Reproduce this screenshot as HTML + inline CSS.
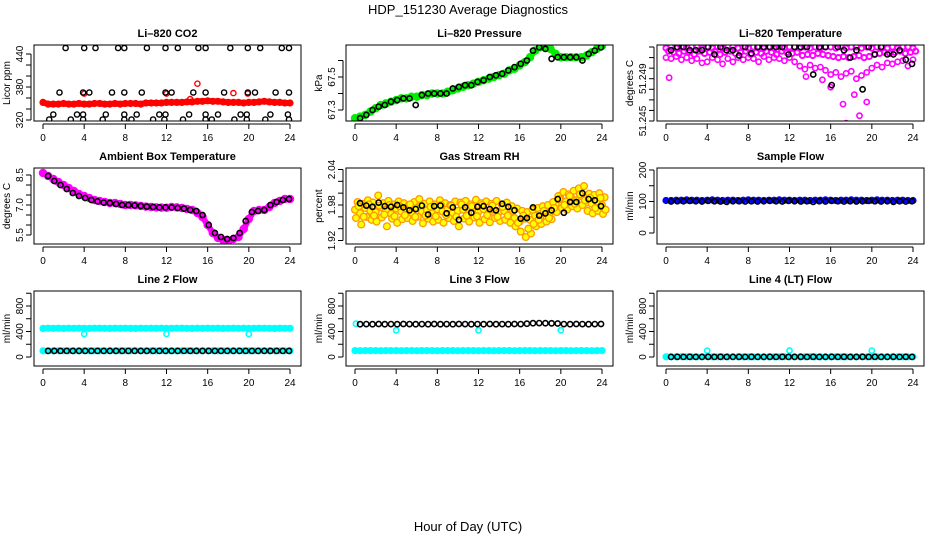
<!DOCTYPE html>
<html><head><meta charset="utf-8"><style>
html,body{margin:0;padding:0;background:#fff;}
svg{display:block;font-family:"Liberation Sans",sans-serif;}
</style></head><body>
<svg id="chart" width="936" height="540" viewBox="0 0 936 540" xmlns="http://www.w3.org/2000/svg">
<rect width="936" height="540" fill="#fff"/>
<text x="468" y="14" text-anchor="middle" font-size="13">HDP_151230  Average Diagnostics</text>
<text x="468" y="531" text-anchor="middle" font-size="13">Hour of Day (UTC)</text>
</svg>
<script>
// ---------- data ----------
const xTicks=[0,4,8,12,16,20,24];
// CO2
const co2Red=[352,349,349,349,350,349,349,350,349,349,350,350,349,349,350,349,350,350,350,349,351,351,351,351,352,352,352,352,353,353,354,354,355,354,354,353,352,352,352,351,352,352,353,354,353,352,352,351,351];
const co2RedOutT=[4,12,14.3,15,18.5,19.9];
const co2RedOutV=[368,368,358,386,369,368];
const co2BlackT=[2.2,4,5.1,7.3,7.9,10.1,11.9,13.1,15.1,15.8,18.2,19.9,21.1,23.2,23.9,1.6,3.9,4.5,6.7,7.9,9.6,11.9,12.5,14.6,15.8,17.6,19.9,20.6,22.6,23.9,1,3.3,3.9,6.1,7.9,9.1,11.3,11.9,14.2,15.8,17,19.2,19.8,22.1,23.8,0.6,2.7,3.9,5.8,7.9,8.6,10.7,11.8,13.6,15.8,16.4,18.6,19.8,21.6,23.9];
const co2BlackV=[451,451,451,451,451,451,451,451,451,451,451,451,451,451,451,370,370,370,370,370,370,370,370,370,370,370,370,370,370,370,330,330,330,330,330,330,330,330,330,330,330,330,330,330,330,321,321,321,321,321,321,321,321,321,321,321,321,321,321,321];
// Pressure
const pressGreen=[67.25,67.26,67.27,67.29,67.31,67.33,67.34,67.35,67.36,67.37,67.37,67.38,67.38,67.39,67.39,67.40,67.40,67.40,67.41,67.42,67.43,67.44,67.45,67.46,67.47,67.48,67.49,67.50,67.51,67.52,67.54,67.55,67.57,67.59,67.62,67.66,67.68,67.68,67.67,67.64,67.62,67.62,67.62,67.62,67.62,67.63,67.65,67.67,67.69];
const pressBlack=[67.25,67.27,67.30,67.32,67.33,67.35,67.36,67.37,67.37,67.33,67.39,67.40,67.40,67.40,67.40,67.43,67.44,67.45,67.45,67.47,67.48,67.50,67.51,67.52,67.54,67.56,67.58,67.60,67.66,67.68,67.67,67.61,67.62,67.62,67.62,67.62,67.60,67.64,67.66,67.68];
// Li-820 temperature
const tMag1=[51.2519,51.2520,51.2519,51.2520,51.2519,51.2520,51.2520,51.2519,51.2520,51.2519,51.2520,51.2519,51.2520,51.2520,51.2519,51.2520,51.2519,51.2520,51.2520,51.2519,51.2520,51.2519,51.2520,51.2519,51.2520,51.2520,51.2519,51.2520,51.2519,51.2520,51.2519,51.2520,51.2520,51.2519,51.2520,51.2519,51.2520,51.2520,51.2519,51.2520,51.2519,51.2520,51.2520,51.2519,51.2520,51.2519,51.2520,51.2520,51.2519];
const tMag2=[51.2516,51.2515,51.2514,51.2516,51.2515,51.2513,51.2516,51.2514,51.2515,51.2516,51.2513,51.2515,51.2516,51.2514,51.2515,51.2516,51.2513,51.2515,51.2514,51.2516,51.2515,51.2513,51.2516,51.2515,51.2514,51.2515,51.2512,51.2513,51.2512,51.2514,51.2513,51.2512,51.2511,51.2510,51.2511,51.2510,51.2511,51.2512,51.2510,51.2511,51.2513,51.2514,51.2515,51.2514,51.2515,51.2516,51.2514,51.2515,51.2516];
const tMag3=[51.2510,51.2509,51.2511,51.2508,51.2510,51.2507,51.2509,51.2505,51.2506,51.2510,51.2508,51.2504,51.2509,51.2506,51.2510,51.2508,51.2510,51.2509,51.2506,51.2511,51.2508,51.2510,51.2509,51.2507,51.2510,51.2506,51.2502,51.2499,51.2503,51.2500,51.2501,51.2498,51.2494,51.2496,51.2492,51.2495,51.2497,51.2490,51.2493,51.2496,51.2500,51.2503,51.2501,51.2505,51.2504,51.2506,51.2507,51.2502,51.2508];
const tOutT=[0.3,17.2,17.5,18.3,18.8,19.5,16.0,15.2,13.6];
const tOutV=[51.2491,51.2466,51.2448,51.2475,51.2455,51.2468,51.2482,51.2489,51.2492];
const tBlack=[51.2517,51.2520,51.2520,51.2517,51.2517,51.2517,51.2520,51.2513,51.2520,51.2517,51.2517,51.2512,51.2520,51.2514,51.2520,51.2520,51.2520,51.2520,51.2520,51.2513,51.2520,51.2520,51.2520,51.2494,51.2520,51.2520,51.2484,51.2520,51.2517,51.2510,51.2517,51.2480,51.2520,51.2513,51.2520,51.2513,51.2513,51.2517,51.2508,51.2504];
// Ambient box temperature
const ambMag=[8.6,8.45,8.3,8.15,8.0,7.85,7.7,7.55,7.45,7.35,7.25,7.2,7.15,7.1,7.1,7.05,7.0,7.0,6.98,6.95,6.92,6.9,6.88,6.87,6.86,6.9,6.88,6.85,6.8,6.75,6.6,6.4,6.0,5.6,5.35,5.25,5.2,5.3,5.4,5.8,6.3,6.7,6.75,6.75,6.9,7.1,7.2,7.3,7.3];
const ambBlack=[8.45,8.2,8.0,7.8,7.6,7.45,7.35,7.25,7.18,7.12,7.1,7.05,7.0,7.0,6.98,6.95,6.92,6.9,6.88,6.88,6.88,6.85,6.82,6.75,6.7,6.5,6.0,5.6,5.4,5.3,5.35,5.6,6.2,6.65,6.7,6.75,7.0,7.15,7.25,7.3];
// Gas stream RH
const rh1=[1.972,1.966,1.975,1.970,1.968,1.976,1.971,1.965,1.974,1.969,1.972,1.967,1.975,1.968,1.971,1.966,1.973,1.969,1.974,1.967,1.970,1.972,1.966,1.975,1.969,1.973,1.967,1.972,1.968,1.970,1.964,1.958,1.952,1.957,1.955,1.962,1.960,1.966,1.968,1.982,1.990,1.986,1.993,1.988,1.995,1.984,1.982,1.986,1.980];
const rh2=[1.985,1.982,1.988,1.984,1.996,1.983,1.987,1.981,1.986,1.983,1.980,1.985,1.990,1.982,1.986,1.981,1.988,1.983,1.980,1.986,1.984,1.987,1.981,1.989,1.983,1.986,1.982,1.987,1.981,1.984,1.978,1.974,1.970,1.968,1.972,1.975,1.978,1.980,1.985,1.995,2.002,1.998,2.004,2.008,2.012,1.999,1.997,2.000,1.993];
const rh3=[1.958,1.947,1.960,1.955,1.952,1.959,1.944,1.957,1.950,1.956,1.958,1.953,1.960,1.949,1.957,1.952,1.955,1.950,1.958,1.953,1.944,1.957,1.952,1.959,1.950,1.956,1.951,1.958,1.953,1.955,1.950,1.944,1.935,1.926,1.932,1.944,1.948,1.952,1.956,1.968,1.975,1.972,1.978,1.974,1.980,1.970,1.966,1.970,1.965];
const rh4=[1.978,1.960,1.981,1.962,1.979,1.964,1.980,1.961,1.978,1.963,1.981,1.960,1.979,1.962,1.977,1.961,1.980,1.963,1.979,1.960,1.981,1.962,1.978,1.961,1.980,1.963,1.979,1.960,1.977,1.962,1.970,1.950,1.962,1.940,1.948,1.955,1.970,1.958,1.975,1.990,1.980,1.995,1.982,1.998,1.988,1.992,1.975,1.992,1.972];
const rhBlack=[1.983,1.979,1.977,1.984,1.978,1.977,1.980,1.976,1.971,1.973,1.979,1.964,1.978,1.979,1.966,1.976,1.955,1.976,1.967,1.977,1.978,1.973,1.971,1.982,1.977,1.971,1.957,1.958,1.976,1.962,1.966,1.971,1.990,1.967,1.985,1.985,2.000,1.990,1.988,1.978];
// Sample flow
const sampBlue=[103,103,104,104,105,104,104,103,104,105,104,103,104,104,103,104,105,104,104,103,104,104,105,104,104,103,104,104,103,104,104,105,104,103,104,104,105,104,104,103,104,105,104,104,103,104,104,103,103];
const sampBlack=[100,101,101,102,101,100,102,101,100,99,101,101,100,101,100,101,102,101,100,102,101,100,101,99,101,100,102,101,100,101,100,101,102,101,100,101,99,101,100,101];
// Line 2 flow
const l2CyanHi=[448,452,450,451,449,452,450,451,450,449,451,452,450,449,451,450,452,450,449,451,450,452,450,451,449,450,451,452,450,449,451,450,452,450,451,449,450,452,450,451,449,450,451,452,450,449,451,450,450];
const l2CyanLo=[98,97,98,99,98,97,98,98,99,97,98,98,97,99,98,98,97,98,99,98,97,98,98,99,97,98,98,97,99,98,98,97,98,99,98,97,98,98,99,97,98,98,97,99,98,98,97,98,98];
const l2Black=[95,96,95,96,95,95,96,95,96,95,95,96,95,96,95,95,96,95,96,95,95,96,95,96,95,95,96,95,96,95,95,96,95,96,95,95,96,95,96,95];
const l2OutT=[4,12,20];
const l2OutV=[360,362,360];
// Line 3 flow
const l3Black=[515,516,515,517,515,516,515,517,516,515,516,515,517,515,516,515,517,516,515,516,515,517,515,516,515,517,516,522,530,531,530,528,525,516,515,517,516,515,516,517];
const l3CyanLo=[100,99,100,101,100,99,100,100,101,99,100,100,99,101,100,100,99,100,101,100,99,100,100,101,99,100,100,99,101,100,100,99,100,101,100,99,100,100,101,99,100,100,99,101,100,100,99,100,100];
const l3OutT=[0.1,4,12,20];
const l3OutV=[522,418,418,418];
// Line 4 flow
const l4Black=[2,3,2,3,2,2,3,2,3,2,2,3,2,3,2,2,3,2,3,2,2,3,2,3,2,2,3,2,3,2,2,3,2,3,2,2,3,2,3,2];
const l4Cyan=[4,3,4,5,4,3,4,4,5,3,4,4,3,5,4,4,3,4,5,4,3,4,4,5,3,4,4,3,5,4,4,3,4,5,4,3,4,4,5,3,4,4,3,5,4,4,3,4,4];
const l4OutT=[0.1,4,12,20];
const l4OutV=[5,100,102,100];

// ---------- drawing ----------
const NS="http://www.w3.org/2000/svg";
const svg=document.getElementById('chart');
function mk(tag,attrs,parent){const e=document.createElementNS(NS,tag);for(const k in attrs)e.setAttribute(k,attrs[k]);(parent||svg).appendChild(e);return e;}
const colL=[34,346,657], rowT=[45,168,291], rowB=[121,244,366], boxW=267;
const halfT=i=>i*0.5;
const blackT=i=>0.5+0.6*i;

function panel(cfg){
  const L=colL[cfg.col], T=rowT[cfg.row], B=rowB[cfg.row], R=L+boxW;
  const g=mk('g',{});
  
  
  const xs=t=>L+9+t*(247/24);
  const ys=v=>B-(v-cfg.ymin)/(cfg.ymax-cfg.ymin)*(B-T);
  const clipId='clip'+cfg.col+cfg.row;
  const cp=mk('clipPath',{id:clipId},g); mk('rect',{x:L,y:T,width:boxW,height:B-T},cp);
  const plot=mk('g',{'clip-path':'url(#'+clipId+')'},g);
  
  
  cfg.series.forEach(s=>{
    const sg=mk('g',{},plot);
    
    
    const n=s.v.length;
    const tt=i=>s.t?(Array.isArray(s.t)?s.t[i]:s.t(i)):i*24/(n-1);
    if(s.band){
      let d='';for(let i=0;i<n;i++)d+=(i?'L':'M')+xs(tt(i)).toFixed(1)+','+ys(s.v[i]).toFixed(1);
      const p=mk('path',{d:d,fill:'none',stroke:s.color,'stroke-width':s.band,'stroke-linejoin':'round','stroke-linecap':'round'},sg);
      
      
    }
    for(let i=0;i<n;i++){
      const c=mk('circle',{cx:xs(tt(i)).toFixed(1),cy:ys(s.v[i]).toFixed(1),r:s.r||2.6,fill:s.fill||'none',stroke:s.color,'stroke-width':s.sw||1.4},sg);
      
      
    }
  });
  const box=mk('rect',{x:L,y:T,width:boxW,height:B-T,fill:'none',stroke:'#000','stroke-width':1},g);
  
  
  const tl=mk('text',{x:(L+R)/2,y:T-8,'text-anchor':'middle','font-size':11,'font-weight':'bold'},g);
  tl.textContent=cfg.title;
  
  
  const xa=mk('g',{},g);
  
  
  mk('line',{x1:xs(0),x2:xs(24),y1:B+3,y2:B+3,stroke:'#000'},xa);
  xTicks.forEach(t=>{
    mk('line',{x1:xs(t),x2:xs(t),y1:B+3,y2:B+8,stroke:'#000'},xa);
    const tx=mk('text',{x:xs(t),y:B+20,'text-anchor':'middle','font-size':10},xa);
    tx.textContent=t;
    
    
  });
  const ya=mk('g',{},g);
  
  
  const yt=cfg.yticks;
  mk('line',{x1:L-3,x2:L-3,y1:ys(yt[0]),y2:ys(yt[yt.length-1]),stroke:'#000'},ya);
  yt.forEach(v=>{mk('line',{x1:L-8,x2:L-3,y1:ys(v),y2:ys(v),stroke:'#000'},ya);});
  cfg.ylabels.forEach(v=>{
    const y=ys(v);
    const tx=mk('text',{x:L-11,y:y,'text-anchor':'middle','font-size':10,transform:'rotate(-90 '+(L-11)+' '+y+')'},ya);
    tx.textContent=cfg.fmt?cfg.fmt(v):v;
    
    
  });
  const ym=(T+B)/2;
  const yl=mk('text',{x:L-24,y:ym,'text-anchor':'middle','font-size':10,transform:'rotate(-90 '+(L-24)+' '+ym+')'},g);
  yl.textContent=cfg.ylab;
  
  
}

const RED='#ff0000',BLK='#000',GRN='#00ee00',MAG='#ff00ff',BLU='#0000ff',CYN='#00ffff';
panel({name:'co2',col:0,row:0,title:'Li\u2013820 CO2',ylab:'Licor ppm',ymin:318.2,ymax:456.4,
  yticks:[320,340,360,380,400,420,440],ylabels:[320,380,440],
  series:[
    {name:'co2-licor-red',v:co2Red,color:RED,band:6,sw:2},
    {name:'co2-red-outliers',v:co2RedOutV,t:co2RedOutT,color:RED},
    {name:'co2-black',v:co2BlackV,t:co2BlackT,color:BLK}]});
panel({name:'pressure',col:1,row:0,title:'Li\u2013820 Pressure',ylab:'kPa',ymin:67.2333,ymax:67.6939,
  yticks:[67.3,67.4,67.5,67.6],ylabels:[67.3,67.5],fmt:v=>v.toFixed(1),
  series:[
    {name:'pressure-green',v:pressGreen,color:GRN,band:6,sw:2.5,r:3},
    {name:'pressure-black',v:pressBlack,t:blackT,color:BLK,sw:1.6}]});
panel({name:'li820-temp',col:2,row:0,title:'Li\u2013820 Temperature',ylab:'degrees C',ymin:51.245,ymax:51.25219,
  yticks:[51.245,51.246,51.247,51.248,51.249,51.25,51.251,51.252],ylabels:[51.245,51.249],fmt:v=>v.toFixed(3),
  series:[
    {name:'temp-magenta-top',v:tMag1,t:halfT,color:MAG,sw:2},
    {name:'temp-magenta-mid',v:tMag2,t:i=>i*0.5+0.25,color:MAG,sw:2},
    {name:'temp-magenta-low',v:tMag3,t:halfT,color:MAG,sw:1.6},
    {name:'temp-magenta-outliers',v:tOutV,t:tOutT,color:MAG,sw:1.6},
    {name:'temp-black',v:tBlack,t:blackT,color:BLK,sw:1.6}]});
panel({name:'ambient-temp',col:0,row:1,title:'Ambient Box Temperature',ylab:'degrees C',ymin:5.05,ymax:8.85,
  yticks:[5.5,6,6.5,7,7.5,8,8.5],ylabels:[5.5,7,8.5],fmt:v=>v.toFixed(1),
  series:[
    {name:'ambient-magenta',v:ambMag,color:MAG,band:6,sw:2.5,r:3},
    {name:'ambient-black',v:ambBlack,t:blackT,color:BLK,sw:1.6}]});
panel({name:'gas-rh',col:1,row:1,title:'Gas Stream RH',ylab:'percent',ymin:1.9141,ymax:2.0425,
  yticks:[1.92,1.94,1.96,1.98,2.0,2.02,2.04],ylabels:[1.92,1.98,2.04],fmt:v=>v.toFixed(2),
  series:[
    {name:'rh-orange-mid',v:rh1,t:halfT,color:'#ff9900',fill:'#ffff00',r:3.4,sw:1.3},
    {name:'rh-orange-high',v:rh2,t:i=>i*0.5+0.25,color:'#ff9900',fill:'#ffff00',r:3.4,sw:1.3},
    {name:'rh-orange-low',v:rh3,t:i=>i*0.5+0.1,color:'#ff9900',fill:'#ffff00',r:3.4,sw:1.3},
    {name:'rh-orange-extra',v:rh4,t:i=>i*0.5+0.35,color:'#ff9900',fill:'#ffff00',r:3.4,sw:1.3},
    {name:'rh-black',v:rhBlack,t:blackT,color:BLK,sw:1.6}]});
panel({name:'sample-flow',col:2,row:1,title:'Sample Flow',ylab:'ml/min',ymin:-34.9,ymax:206.3,
  yticks:[0,50,100,150,200],ylabels:[0,100,200],
  series:[
    {name:'sample-blue',v:sampBlue,color:BLU,band:5,sw:2},
    {name:'sample-black',v:sampBlack,t:blackT,color:BLK,sw:1.6}]});
panel({name:'line2-flow',col:0,row:2,title:'Line 2 Flow',ylab:'ml/min',ymin:-141,ymax:1035,
  yticks:[0,200,400,600,800,1000],ylabels:[0,400,800],
  series:[
    {name:'line2-cyan-high',v:l2CyanHi,color:CYN,band:6,sw:2},
    {name:'line2-cyan-low',v:l2CyanLo,color:CYN,band:6,sw:2},
    {name:'line2-cyan-outliers',v:l2OutV,t:l2OutT,color:CYN,sw:1.6},
    {name:'line2-black',v:l2Black,t:blackT,color:BLK,sw:1.6}]});
panel({name:'line3-flow',col:1,row:2,title:'Line 3 Flow',ylab:'ml/min',ymin:-141,ymax:1035,
  yticks:[0,200,400,600,800,1000],ylabels:[0,400,800],
  series:[
    {name:'line3-cyan-low',v:l3CyanLo,color:CYN,band:6,sw:2},
    {name:'line3-cyan-outliers',v:l3OutV,t:l3OutT,color:CYN,sw:1.6},
    {name:'line3-black',v:l3Black,t:blackT,color:BLK,sw:1.6}]});
panel({name:'line4-flow',col:2,row:2,title:'Line 4 (LT) Flow',ylab:'ml/min',ymin:-141,ymax:1035,
  yticks:[0,200,400,600,800,1000],ylabels:[0,400,800],
  series:[
    {name:'line4-cyan',v:l4Cyan,color:CYN,band:5,sw:2},
    {name:'line4-cyan-outliers',v:l4OutV,t:l4OutT,color:CYN,sw:1.6},
    {name:'line4-black',v:l4Black,t:blackT,color:BLK,sw:1.6}]});
</script>
</body></html>
